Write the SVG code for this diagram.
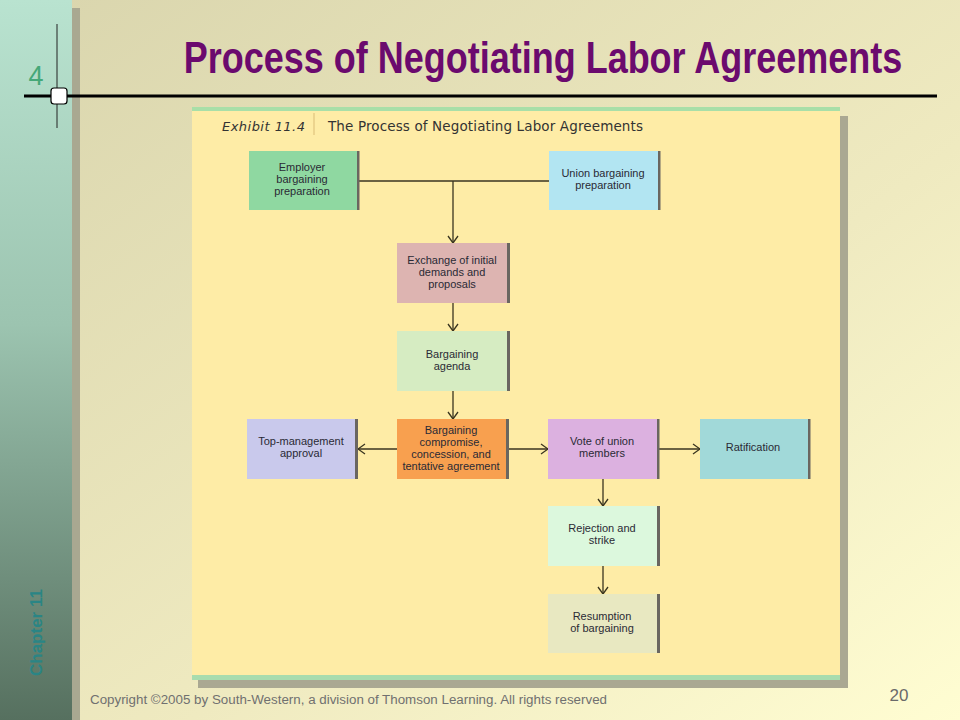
<svg xmlns="http://www.w3.org/2000/svg" width="960" height="720" viewBox="0 0 960 720">
<defs>
<linearGradient id="bg" x1="0" y1="0" x2="1" y2="1">
<stop offset="0" stop-color="#d9d5ad"/>
<stop offset="0.6" stop-color="#efeac0"/>
<stop offset="1" stop-color="#fffdd2"/>
</linearGradient>
<linearGradient id="side" x1="0" y1="0" x2="0" y2="1">
<stop offset="0" stop-color="#b9e3d0"/>
<stop offset="0.45" stop-color="#9cc4b0"/>
<stop offset="1" stop-color="#56705f"/>
</linearGradient>
<marker id="ah" viewBox="0 0 12 12" refX="11" refY="6" markerWidth="12" markerHeight="12" markerUnits="userSpaceOnUse" orient="auto">
<path d="M4,1 L11,6 L4,11" fill="none" stroke="#3a3520" stroke-width="1.3"/>
</marker>
<style>
.box{stroke:none}
.edge{fill:#6a6660}
.t{font-family:"Liberation Sans",Arial,sans-serif;font-size:11px;fill:#2a2a35;text-anchor:middle}
.c{fill:none;stroke:#3a3520;stroke-width:1.3}
</style>
</defs>
<rect width="960" height="720" fill="url(#bg)"/>
<rect x="0" y="0" width="72" height="720" fill="url(#side)"/>
<rect x="72" y="8" width="8" height="712" fill="#a9a891"/>
<text x="36" y="85" font-family="Liberation Sans,Arial,sans-serif" font-size="27" fill="#45a878" text-anchor="middle">4</text>
<line x1="57" y1="24" x2="57" y2="128" stroke="#222" stroke-width="1"/>
<line x1="24" y1="96" x2="937" y2="96" stroke="#000" stroke-width="3"/>
<rect x="51" y="88" width="16" height="16" rx="3" fill="#fff" stroke="#000" stroke-width="1.2"/>
<text transform="translate(543,73) scale(0.80,1)" x="0" y="0" font-family="Liberation Sans,Arial,sans-serif" font-weight="bold" font-size="45" fill="#6b0a6e" text-anchor="middle">Process of Negotiating Labor Agreements</text>
<text transform="translate(42,676) rotate(-90)" font-family="Liberation Sans,Arial,sans-serif" font-weight="bold" font-size="17" fill="#2a8585">Chapter 11</text>
<text x="90" y="704" font-family="Liberation Sans,Arial,sans-serif" font-size="12" fill="#707070" textLength="517" lengthAdjust="spacingAndGlyphs">Copyright ©2005 by South-Western,  a division of Thomson Learning.  All rights reserved</text>
<text x="899" y="701" font-family="Liberation Sans,Arial,sans-serif" font-size="17" fill="#6a6a6a" text-anchor="middle">20</text>

<g id="panel">
<rect x="198" y="116" width="650" height="572" fill="#aaa892"/>
<rect x="192" y="107" width="648" height="573" fill="#feeca6"/>
<rect x="192" y="107" width="648" height="4" fill="#a8dfa8"/>
<rect x="192" y="675" width="648" height="5" fill="#a8dcae"/>
<text x="222" y="131" font-family="DejaVu Sans,sans-serif" font-style="italic" font-size="13" fill="#333" textLength="83">Exhibit 11.4</text>
<rect x="313" y="113" width="2" height="22" fill="#ecd48e"/>
<text x="328" y="131" font-family="DejaVu Sans,sans-serif" font-size="13.5" fill="#333" textLength="315">The Process of Negotiating Labor Agreements</text>
</g>

<g id="connectors">
<line class="c" x1="359" y1="181" x2="549" y2="181"/>
<line class="c" x1="453" y1="181" x2="453" y2="243" marker-end="url(#ah)"/>
<line class="c" x1="453" y1="303" x2="453" y2="331" marker-end="url(#ah)"/>
<line class="c" x1="453" y1="391" x2="453" y2="419" marker-end="url(#ah)"/>
<line class="c" x1="397" y1="449" x2="358" y2="449" marker-end="url(#ah)"/>
<line class="c" x1="509" y1="449" x2="548" y2="449" marker-end="url(#ah)"/>
<line class="c" x1="659" y1="449" x2="700" y2="449" marker-end="url(#ah)"/>
<line class="c" x1="603" y1="479" x2="603" y2="506" marker-end="url(#ah)"/>
<line class="c" x1="603" y1="566" x2="603" y2="594" marker-end="url(#ah)"/>
</g>

<g id="employer">
<rect class="box" x="249" y="151" width="110" height="59" fill="#8fd8a1"/>
<rect class="edge" x="357" y="151" width="2.5" height="59"/>
<text class="t" x="302" y="171">Employer</text>
<text class="t" x="302" y="183">bargaining</text>
<text class="t" x="302" y="195">preparation</text>
</g>
<g id="union">
<rect class="box" x="549" y="151" width="111" height="59" fill="#b2e5f2"/>
<rect class="edge" x="658" y="151" width="2.5" height="59"/>
<text class="t" x="603" y="177">Union bargaining</text>
<text class="t" x="603" y="189">preparation</text>
</g>
<g id="exchange">
<rect class="box" x="397" y="243" width="113" height="60" fill="#ddb4b1"/>
<rect class="edge" x="507" y="243" width="3" height="60"/>
<text class="t" x="452" y="264">Exchange of initial</text>
<text class="t" x="452" y="276">demands and</text>
<text class="t" x="452" y="288">proposals</text>
</g>
<g id="agenda">
<rect class="box" x="397" y="331" width="113" height="60" fill="#d6ecc2"/>
<rect class="edge" x="507" y="331" width="3" height="60"/>
<text class="t" x="452" y="358">Bargaining</text>
<text class="t" x="452" y="370">agenda</text>
</g>
<g id="topmgmt">
<rect class="box" x="247" y="419" width="111" height="60" fill="#c9c9ec"/>
<rect class="edge" x="355" y="419" width="3" height="60"/>
<text class="t" x="301" y="445">Top-management</text>
<text class="t" x="301" y="457">approval</text>
</g>
<g id="compromise">
<rect class="box" x="397" y="419" width="112" height="60" fill="#f8a04f"/>
<rect class="edge" x="506" y="419" width="3" height="60"/>
<text class="t" x="451" y="434">Bargaining</text>
<text class="t" x="451" y="446">compromise,</text>
<text class="t" x="451" y="458">concession, and</text>
<text class="t" x="451" y="470">tentative agreement</text>
</g>
<g id="vote">
<rect class="box" x="548" y="419" width="111" height="60" fill="#dcb1e0"/>
<rect class="edge" x="657" y="419" width="2.5" height="60"/>
<text class="t" x="602" y="445">Vote of union</text>
<text class="t" x="602" y="457">members</text>
</g>
<g id="ratification">
<rect class="box" x="700" y="419" width="110" height="60" fill="#a1d9d9"/>
<rect class="edge" x="808" y="419" width="2.5" height="60"/>
<text class="t" x="753" y="451">Ratification</text>
</g>
<g id="rejection">
<rect class="box" x="548" y="506" width="111" height="60" fill="#dcf8dd"/>
<rect class="edge" x="657" y="506" width="3" height="60"/>
<text class="t" x="602" y="532">Rejection and</text>
<text class="t" x="602" y="544">strike</text>
</g>
<g id="resumption">
<rect class="box" x="548" y="594" width="111" height="59" fill="#e8e8c1"/>
<rect class="edge" x="657" y="594" width="3" height="59"/>
<text class="t" x="602" y="620">Resumption</text>
<text class="t" x="602" y="632">of bargaining</text>
</g>
</svg>
